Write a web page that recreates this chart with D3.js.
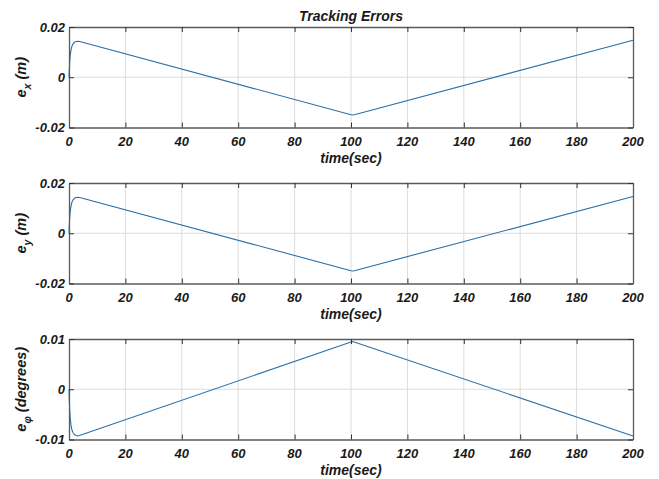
<!DOCTYPE html>
<html>
<head>
<meta charset="utf-8">
<script src="https://cdn.jsdelivr.net/npm/d3@7/dist/d3.min.js"></script>
<style>
  html, body { margin: 0; padding: 0; background: #fff; }
  svg { display: block; }
  text { font-family: "Liberation Sans", Arial, sans-serif; font-weight: bold; font-style: italic; fill: #1a1a1a; }
</style>
</head>
<body>
<svg id="chart" width="659" height="479"></svg>
<script>
// Time axis and tick labels shared by all three panels
const timeTicks = [0, 20, 40, 60, 80, 100, 120, 140, 160, 180, 200];

// Position error in x (m): [time, error]
const errX = [
  [0, 0], [0.1, 0.0030], [0.25, 0.0062], [0.45, 0.0088], [0.7, 0.0108],
  [1.0, 0.0122], [1.4, 0.0132], [1.9, 0.0139], [2.5, 0.0142], [3.1, 0.0143],
  [3.8, 0.0142], [100.0, -0.0149], [100.6, -0.0150], [101.2, -0.0149], [200, 0.0147]
];

// Position error in y (m): [time, error]
const errY = [
  [0, 0], [0.1, 0.0030], [0.25, 0.0062], [0.45, 0.0088], [0.7, 0.0108],
  [1.0, 0.0122], [1.4, 0.0132], [1.9, 0.0139], [2.5, 0.0142], [3.1, 0.0143],
  [3.8, 0.0142], [100.0, -0.0149], [100.6, -0.0150], [101.2, -0.0149], [200, 0.0146]
];

// Heading error (degrees): [time, error]
const errPhi = [
  [0, 0], [0.1, -0.0022], [0.25, -0.0042], [0.45, -0.0058], [0.7, -0.0071],
  [1.0, -0.0080], [1.4, -0.0086], [1.9, -0.0090], [2.5, -0.0092], [3.1, -0.0093],
  [3.7, -0.0092], [100.0, 0.0094], [100.5, 0.0095], [101.1, 0.0094], [200, -0.0093]
];

const yTicksPos = [-0.02, 0, 0.02];
const yTickLabelsPos = ["-0.02", "0", "0.02"];
const yTicksPhi = [-0.01, 0, 0.01];
const yTickLabelsPhi = ["-0.01", "0", "0.01"];

const panels = [
  { data: errX, top: 27, ticks: yTicksPos, labels: yTickLabelsPos, dom: [-0.02, 0.02], sub: "x", unit: " (m)" },
  { data: errY, top: 183, ticks: yTicksPos, labels: yTickLabelsPos, dom: [-0.02, 0.02], sub: "y", unit: " (m)" },
  { data: errPhi, top: 339, ticks: yTicksPhi, labels: yTickLabelsPhi, dom: [-0.01, 0.01], sub: "\u03C6", unit: "  (degrees)" }
];

const svg = d3.select("#chart");
const left = 69, right = 633, plotH = 100.5;
const lineColor = "#2c6fa6";
const gridColor = "#dcdcdc";
const boxColor = "#5a5a5a";

const x = d3.scaleLinear().domain([0, 200]).range([left, right]);

panels.forEach((p, i) => {
  const y = d3.scaleLinear().domain(p.dom).range([p.top + plotH, p.top]);
  const g = svg.append("g");

  // grid lines
  g.append("g").selectAll("line").data(timeTicks.slice(1, -1)).join("line")
    .attr("x1", d => x(d)).attr("x2", d => x(d))
    .attr("y1", p.top).attr("y2", p.top + plotH)
    .attr("stroke", gridColor).attr("stroke-width", 1);
  g.append("g").selectAll("line").data(p.ticks.slice(1, -1)).join("line")
    .attr("x1", left).attr("x2", right)
    .attr("y1", d => y(d)).attr("y2", d => y(d))
    .attr("stroke", gridColor).attr("stroke-width", 1);

  // data line
  const line = d3.line().x(d => x(d[0])).y(d => y(d[1])).curve(d3.curveLinear);
  g.append("path").datum(p.data).attr("d", line)
    .attr("fill", "none").attr("stroke", lineColor).attr("stroke-width", 1.1)
    .attr("stroke-linejoin", "round");

  // axes with inward ticks on all four sides
  const tickLen = 5;
  const axB = d3.axisBottom(x).tickValues(timeTicks).tickSizeInner(-tickLen).tickSizeOuter(0).tickFormat("");
  const axT = d3.axisTop(x).tickValues(timeTicks).tickSizeInner(-tickLen).tickSizeOuter(0).tickFormat("");
  const axL = d3.axisLeft(y).tickValues(p.ticks).tickSizeInner(-tickLen).tickSizeOuter(0).tickFormat("");
  const axR = d3.axisRight(y).tickValues(p.ticks).tickSizeInner(-tickLen).tickSizeOuter(0).tickFormat("");
  [[axB, `translate(0,${p.top + plotH})`], [axT, `translate(0,${p.top})`],
   [axL, `translate(${left},0)`], [axR, `translate(${right},0)`]].forEach(([ax, tr]) => {
    const a = g.append("g").attr("transform", tr).call(ax);
    a.selectAll("path.domain").attr("stroke", boxColor).attr("stroke-width", 1.3);
    a.selectAll(".tick line").attr("stroke", "#333").attr("stroke-width", 1);
  });

  // tick labels
  g.append("g").selectAll("text").data(timeTicks).join("text")
    .attr("x", d => x(d)).attr("y", p.top + plotH + 18)
    .attr("text-anchor", "middle").attr("font-size", 13)
    .text(d => d);
  g.append("g").selectAll("text").data(p.ticks).join("text")
    .attr("x", left - 4).attr("y", d => y(d) + 4.5)
    .attr("text-anchor", "end").attr("font-size", 13)
    .text((d, j) => p.labels[j]);

  // x label
  g.append("text").attr("x", x(100)).attr("y", p.top + plotH + 35)
    .attr("text-anchor", "middle").attr("font-size", 14).text("time(sec)");

  // y label with subscript
  const yl = g.append("text")
    .attr("transform", `translate(26,${p.top + plotH / 2}) rotate(-90)`)
    .attr("text-anchor", "middle").attr("font-size", 14.5);
  yl.append("tspan").text("e");
  yl.append("tspan").attr("dy", 5).attr("font-size", 10.5).text(p.sub);
  yl.append("tspan").attr("dy", -5).text(p.unit);
});

// title
svg.append("text").attr("x", x(100)).attr("y", 21)
  .attr("text-anchor", "middle").attr("font-size", 14).text("Tracking Errors");
</script>
</body>
</html>
